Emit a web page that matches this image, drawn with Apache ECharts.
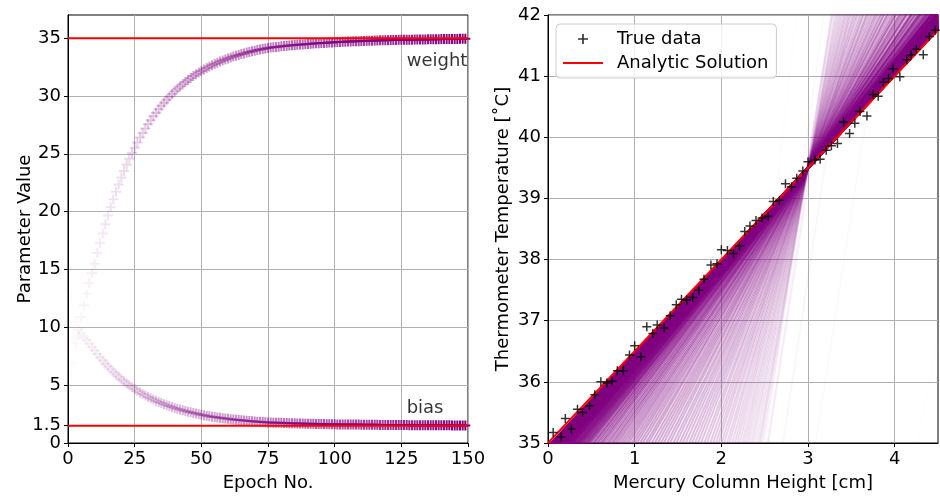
<!DOCTYPE html>
<html>
<head>
<meta charset="utf-8">
<script src="https://cdn.jsdelivr.net/npm/echarts@6/dist/echarts.min.js"></script>
<style>
html, body { margin: 0; padding: 0; background: #fff; }
#main { width: 940px; height: 498px; }
</style>
</head>
<body>
<div id="main"></div>
<script>
// parameter history, one value per epoch
var weights = [
    3.9, 5.9, 6.9, 8.6, 9.8, 10.9, 11.9, 12.9, 13.8, 14.7,
    15.50, 16.42, 17.29, 18.12, 18.91, 19.67, 20.39, 21.08, 21.73, 22.35,
    22.95, 23.51, 24.05, 24.57, 25.06, 25.53, 25.97, 26.40, 26.80, 27.19,
    27.55, 27.90, 28.24, 28.56, 28.86, 29.15, 29.42, 29.68, 29.93, 30.17,
    30.40, 30.62, 30.82, 31.02, 31.21, 31.38, 31.55, 31.72, 31.87, 32.02,
    32.16, 32.29, 32.42, 32.54, 32.66, 32.77, 32.87, 32.97, 33.07, 33.16,
    33.24, 33.33, 33.41, 33.48, 33.55, 33.62, 33.68, 33.75, 33.81, 33.86,
    33.92, 33.97, 34.02, 34.06, 34.11, 34.15, 34.18, 34.21, 34.23, 34.26,
    34.29, 34.31, 34.34, 34.36, 34.38, 34.40, 34.42, 34.44, 34.46, 34.48,
    34.50, 34.52, 34.53, 34.55, 34.56, 34.58, 34.59, 34.61, 34.62, 34.63,
    34.65, 34.66, 34.67, 34.68, 34.69, 34.70, 34.71, 34.72, 34.73, 34.74,
    34.75, 34.76, 34.77, 34.78, 34.78, 34.79, 34.80, 34.81, 34.81, 34.82,
    34.82, 34.83, 34.84, 34.84, 34.85, 34.85, 34.86, 34.86, 34.87, 34.87,
    34.88, 34.88, 34.89, 34.89, 34.89, 34.90, 34.90, 34.91, 34.91, 34.91,
    34.92, 34.92, 34.92, 34.92, 34.93, 34.93, 34.93, 34.94, 34.94, 34.94
];
var biases = [
    7.3, 12.6, 9.1, 10.5, 9.3, 9.5, 9.1, 8.9, 8.6, 8.3,
    8.00, 7.69, 7.40, 7.13, 6.86, 6.61, 6.37, 6.14, 5.92, 5.72,
    5.52, 5.33, 5.15, 4.98, 4.81, 4.66, 4.51, 4.37, 4.23, 4.10,
    3.98, 3.87, 3.75, 3.65, 3.55, 3.45, 3.36, 3.27, 3.19, 3.11,
    3.03, 2.96, 2.89, 2.83, 2.76, 2.71, 2.65, 2.59, 2.54, 2.49,
    2.45, 2.40, 2.36, 2.32, 2.28, 2.24, 2.21, 2.18, 2.14, 2.11,
    2.09, 2.06, 2.03, 2.01, 1.98, 1.96, 1.94, 1.92, 1.90, 1.88,
    1.86, 1.84, 1.83, 1.81, 1.80, 1.78, 1.77, 1.76, 1.76, 1.75,
    1.74, 1.73, 1.72, 1.71, 1.71, 1.70, 1.69, 1.69, 1.68, 1.67,
    1.67, 1.66, 1.66, 1.65, 1.65, 1.64, 1.64, 1.63, 1.63, 1.62,
    1.62, 1.61, 1.61, 1.61, 1.60, 1.60, 1.60, 1.59, 1.59, 1.59,
    1.58, 1.58, 1.58, 1.57, 1.57, 1.57, 1.57, 1.56, 1.56, 1.56,
    1.56, 1.56, 1.55, 1.55, 1.55, 1.55, 1.55, 1.55, 1.54, 1.54,
    1.54, 1.54, 1.54, 1.54, 1.54, 1.53, 1.53, 1.53, 1.53, 1.53,
    1.53, 1.53, 1.53, 1.53, 1.52, 1.52, 1.52, 1.52, 1.52, 1.52
];

// measurements
var trueH = [
    0.06, 0.15, 0.20, 0.27, 0.34, 0.40, 0.48, 0.54, 0.61, 0.68,
    0.74, 0.80, 0.87, 0.94, 1.00, 1.07, 1.14, 1.21, 1.26, 1.34,
    1.41, 1.48, 1.54, 1.60, 1.67, 1.74, 1.80, 1.88, 1.95, 2.00,
    2.07, 2.14, 2.21, 2.27, 2.33, 2.40, 2.47, 2.54, 2.60, 2.67,
    2.74, 2.81, 2.87, 2.94, 3.00, 3.08, 3.14, 3.21, 3.27, 3.34,
    3.41, 3.48, 3.54, 3.60, 3.68, 3.75, 3.81, 3.87, 3.93, 3.98,
    4.06, 4.14, 4.19, 4.25, 4.33, 4.40, 4.47
];
var trueT = [
    35.17, 35.10, 35.40, 35.23, 35.55, 35.50, 35.61, 35.79, 36.00, 35.98,
    36.01, 36.18, 36.18, 36.44, 36.59, 36.41, 36.90, 36.79, 36.93, 36.88,
    37.08, 37.26, 37.35, 37.34, 37.38, 37.50, 37.68, 37.91, 37.93, 38.16,
    38.15, 38.10, 38.22, 38.46, 38.55, 38.64, 38.68, 38.71, 38.95, 38.97,
    39.24, 39.19, 39.33, 39.45, 39.60, 39.63, 39.64, 39.79, 39.86, 39.90,
    40.25, 40.06, 40.23, 40.42, 40.35, 40.70, 40.67, 40.90, 40.96, 41.12,
    40.99, 41.27, 41.35, 41.44, 41.35, 41.65, 41.75
];

var analyticW = 35;
var analyticB = 1.5;

var paramTicks = [0, 1.5, 5, 10, 15, 20, 25, 30, 35];
var heightTicks = [0, 1, 2, 3, 4];

(function () {
    var myChart = echarts.init(document.getElementById('main'));

    var font = 'DejaVu Sans';
    var purple = '#800080';
    var plusBig = 'path://M4,0H6V4H10V6H6V10H4V6H0V4H4Z';
    var plusThin = 'path://M5,0H7V5H12V7H7V12H5V7H0V5H5Z';
    var lineIcon = 'path://M0,0H40V2H0Z';
    var n = weights.length;
    var hMax = 4.5;

    function alpha(i) {
        return (i + 1) / n;
    }

    function axisCommon() {
        return {
            axisLine: { show: true, lineStyle: { color: '#000', width: 1 } },
            axisTick: { show: true, length: 4, lineStyle: { color: '#000' } },
            axisLabel: {
                color: '#000', fontFamily: font, fontSize: 18, margin: 7,
                showMinLabel: true, showMaxLabel: true
            },
            splitLine: { show: true, lineStyle: { color: '#b0b0b0', width: 1 } },
            nameLocation: 'middle',
            nameTextStyle: { color: '#000', fontFamily: font, fontSize: 18 }
        };
    }

    var series = [];

    // left panel: parameter history
    series.push({
        type: 'scatter', xAxisIndex: 0, yAxisIndex: 0,
        symbol: plusBig, symbolSize: 10, silent: true, z: 2,
        itemStyle: { color: purple },
        data: weights.map(function (w, i) {
            return { value: [i, w], itemStyle: { opacity: alpha(i) } };
        })
    });
    series.push({
        type: 'scatter', xAxisIndex: 0, yAxisIndex: 0,
        symbol: plusBig, symbolSize: 10, silent: true, z: 2,
        itemStyle: { color: purple },
        data: biases.map(function (b, i) {
            return { value: [i, b], itemStyle: { opacity: alpha(i) } };
        })
    });
    [analyticW, analyticB].forEach(function (v) {
        series.push({
            type: 'line', xAxisIndex: 0, yAxisIndex: 0,
            symbol: 'none', silent: true, z: 3,
            lineStyle: { color: '#ff0000', width: 2 },
            data: [[0, v], [150, v]]
        });
    });
    series.push({
        type: 'scatter', xAxisIndex: 0, yAxisIndex: 0,
        symbolSize: 0, silent: true, z: 4,
        label: {
            show: true, position: 'right', distance: 0,
            color: '#000', fontFamily: font, fontSize: 18,
            formatter: function (p) { return p.data.text; }
        },
        data: [
            { value: [127, 33.0], text: 'weight' },
            { value: [127, 3.0], text: 'bias' }
        ]
    });

    // right panel: one line per epoch
    for (var i = 0; i < n; i++) {
        series.push({
            type: 'line', xAxisIndex: 1, yAxisIndex: 1,
            symbol: 'none', silent: true, z: 1, clip: true,
            lineStyle: { color: purple, width: 2, opacity: alpha(i) },
            data: [[0, weights[i]], [hMax, weights[i] + biases[i] * hMax]]
        });
    }
    series.push({
        name: 'Analytic Solution',
        type: 'line', xAxisIndex: 1, yAxisIndex: 1,
        symbol: 'none', z: 3,
        itemStyle: { color: '#ff0000' },
        lineStyle: { color: '#ff0000', width: 2 },
        data: [[0, analyticW], [hMax, analyticW + analyticB * hMax]]
    });
    series.push({
        name: 'True data',
        type: 'scatter', xAxisIndex: 1, yAxisIndex: 1,
        symbol: plusThin, symbolSize: 9, z: 4,
        itemStyle: { color: '#000' },
        data: trueH.map(function (h, i) { return [h, trueT[i]]; })
    });

    var xLeft = axisCommon();
    xLeft.gridIndex = 0; xLeft.type = 'value'; xLeft.min = 0; xLeft.max = 150; xLeft.interval = 25;
    xLeft.name = 'Epoch No.'; xLeft.nameGap = 31;

    // main ticks on the left axis, plus an overlay axis that carries the close 1.5 tick
    var mainTicks = paramTicks.filter(function (v) { return v !== analyticB; });
    var yLeft = axisCommon();
    yLeft.gridIndex = 0; yLeft.type = 'value'; yLeft.min = 0; yLeft.max = 37; yLeft.interval = 5;
    yLeft.axisLabel.customValues = mainTicks;
    yLeft.axisTick.customValues = mainTicks;
    yLeft.name = 'Parameter Value'; yLeft.nameGap = 34;

    var yLeftExtra = axisCommon();
    yLeftExtra.gridIndex = 0; yLeftExtra.type = 'value'; yLeftExtra.min = 0; yLeftExtra.max = 37;
    yLeftExtra.position = 'left';
    yLeftExtra.splitLine = { show: false };
    yLeftExtra.axisLabel.customValues = [analyticB];
    yLeftExtra.axisTick.customValues = [analyticB];

    var xRight = axisCommon();
    xRight.gridIndex = 1; xRight.type = 'value'; xRight.min = 0; xRight.max = hMax; xRight.interval = 1;
    xRight.axisLabel.customValues = heightTicks;
    xRight.axisTick.customValues = heightTicks;
    xRight.name = 'Mercury Column Height [cm]'; xRight.nameGap = 31;

    var yRight = axisCommon();
    yRight.gridIndex = 1; yRight.type = 'value'; yRight.min = 35; yRight.max = 42; yRight.interval = 1;
    yRight.name = 'Thermometer Temperature [˚C]'; yRight.nameGap = 36;

    var option = {
        animation: false,
        backgroundColor: '#fff',
        textStyle: { fontFamily: font },
        grid: [
            { left: 68, right: 472, top: 15, bottom: 55, show: true, borderColor: '#000', borderWidth: 1, backgroundColor: 'transparent' },
            { left: 548, right: 2, top: 15, bottom: 55, show: true, borderColor: '#000', borderWidth: 1, backgroundColor: 'transparent' }
        ],
        legend: {
            left: 556, top: 24, orient: 'vertical',
            data: [
                { name: 'True data', icon: plusThin },
                { name: 'Analytic Solution', icon: lineIcon }
            ],
            itemWidth: 40, itemHeight: 10, itemGap: 6,
            padding: [6, 8, 6, 7],
            borderColor: '#cccccc', borderWidth: 1, borderRadius: 4,
            backgroundColor: 'rgba(255,255,255,0.8)',
            textStyle: { color: '#000', fontFamily: font, fontSize: 18, padding: [0, 0, 0, 9] }
        },
        xAxis: [xLeft, xRight],
        yAxis: [yLeft, yRight, yLeftExtra],
        series: series
    };

    myChart.setOption(option);
    window.addEventListener('resize', function () {
        myChart.resize();
    });
})();
</script>
</body>
</html>
